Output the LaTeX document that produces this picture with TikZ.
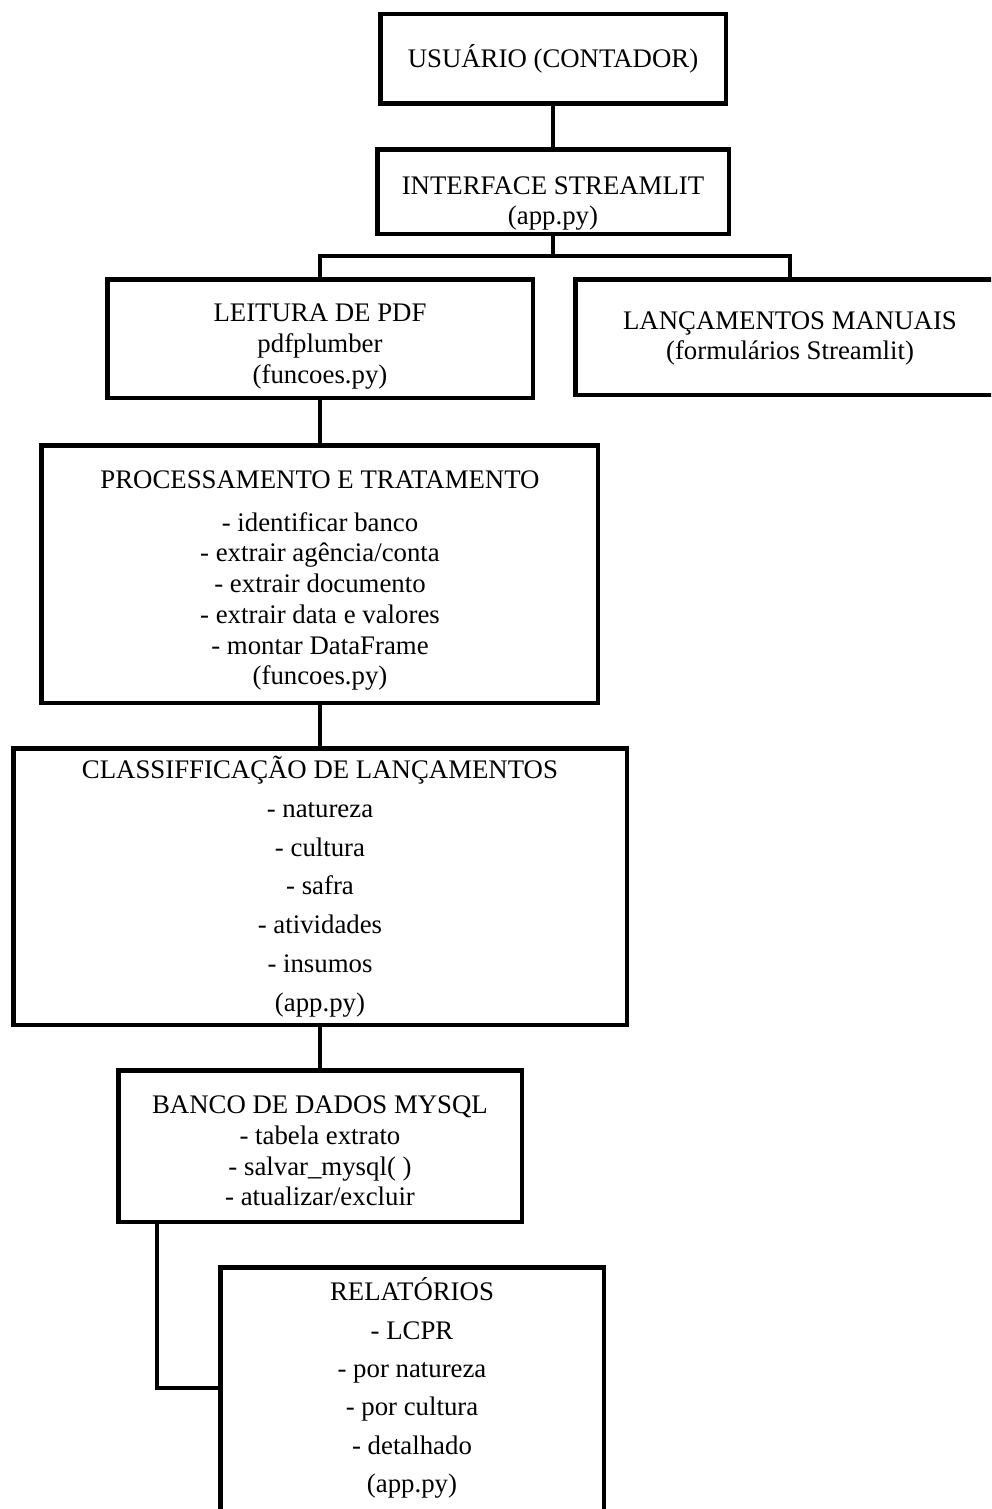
\documentclass[tikz,border=0pt]{standalone}
\usepackage{fontspec}
\setmainfont{Liberation Serif}
\usetikzlibrary{calc}
\begin{document}
\begin{tikzpicture}[x=1pt,y=-1pt,
  box/.style={draw=black,line width=4.5pt,rectangle,inner sep=0pt,outer sep=0pt},
  txt/.style={align=center,inner sep=0pt,font=\fontsize{26.8}{30.7}\selectfont},
  link/.style={draw=black,line width=4.5pt}]
\useasboundingbox (0,0) rectangle (991,1509);
\clip (0,0) rectangle (991,1509);
% boxes
\node[box,minimum width=345.5pt,minimum height=89.5pt] (b1) at (553,59) {};
\node[box,minimum width=351.5pt,minimum height=84.5pt] (b2) at (553,191.5) {};
\node[box,minimum width=425.5pt,minimum height=118.5pt] (b3) at (320,338.5) {};
\node[box,minimum width=429.5pt,minimum height=115.5pt] (b4) at (790,337) {};
\node[box,minimum width=556.5pt,minimum height=257.5pt] (b5) at (319.5,574) {};
\node[box,minimum width=613.5pt,minimum height=276.5pt] (b6) at (320,886.5) {};
\node[box,minimum width=403.5pt,minimum height=151.5pt] (b7) at (320,1146) {};
\node[box,minimum width=383.5pt,minimum height=255.5pt] (b8) at (412,1395) {};
% texts
\node[txt] (t1) at (553,59) {USUÁRIO (CONTADOR)};
\node[txt] (t2) at (553,203.5) {INTERFACE STREAMLIT\\(app.py)};
\node[txt] (t3) at (320,346.5) {LEITURA DE PDF\\pdfplumber\\(funcoes.py)};
\node[txt] (t4) at (790,338.5) {LANÇAMENTOS MANUAIS\\(formulários Streamlit)};
\node[txt] (t5) at (320,580.5) {PROCESSAMENTO E TRATAMENTO\\[12.3pt]- identificar banco\\- extrair agência/conta\\- extrair documento\\- extrair data e valores\\- montar DataFrame\\(funcoes.py)};
\node[txt] (t6) at (320,886.5) {CLASSIFFICAÇÃO DE LANÇAMENTOS\\[8.1pt]- natureza\\[8.1pt]- cultura\\[8.1pt]- safra\\[8.1pt]- atividades\\[8.1pt]- insumos\\[8.1pt](app.py)};
\node[txt] (t7) at (320,1151) {BANCO DE DADOS MYSQL\\- tabela extrato\\- salvar\_mysql( )\\- atualizar/excluir};
\node[txt] (t8) at (412,1388) {RELATÓRIOS\\[7.7pt]- LCPR\\[7.7pt]- por natureza\\[7.7pt]- por cultura\\[7.7pt]- detalhado\\[7.7pt](app.py)};
% connectors
\coordinate (br) at (553,256);
\coordinate (db) at (157,1388);
\draw[link] (b1.south) -- (b2.south |- b2.north);
\draw[link] (b2.south) -- (br);
\draw[link] (b3.north) |- (br) -| (b4.north);
\draw[link] (b3.south) -- (b5.north -| b3.south);
\draw[link] (b5.south -| b6.north) -- (b6.north);
\draw[link] (b6.south) -- (b7.north);
\draw[link] (b7.south -| db) -- (db) -- (db -| b8.west);
\end{tikzpicture}
\end{document}
